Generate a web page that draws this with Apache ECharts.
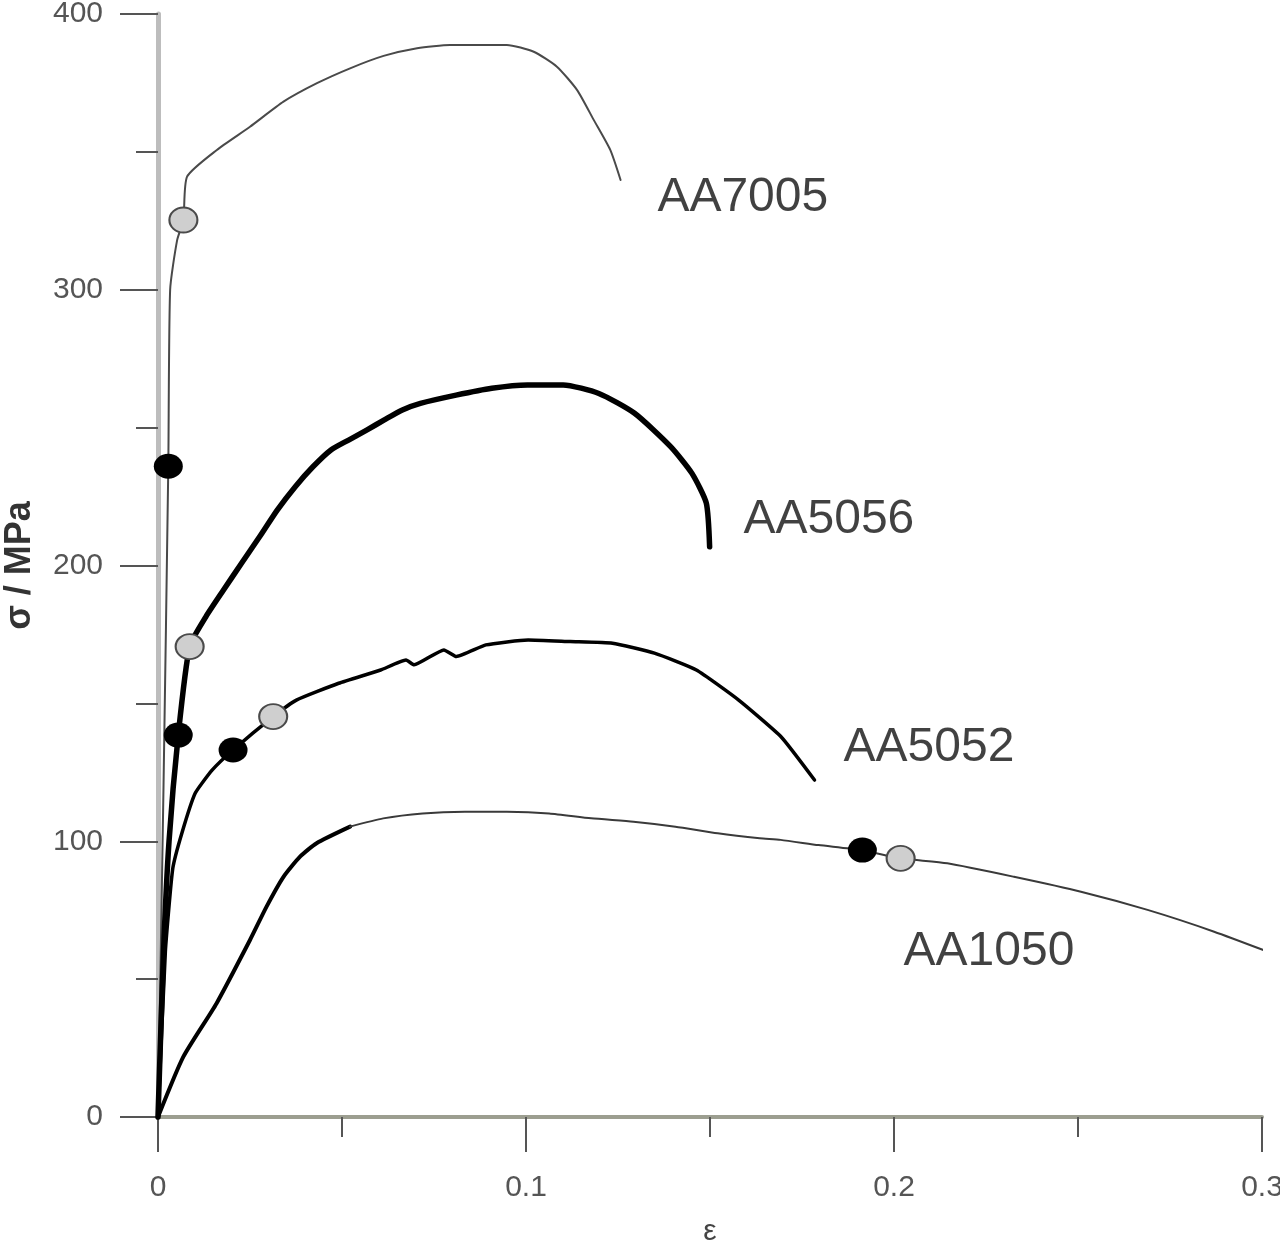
<!DOCTYPE html>
<html>
<head>
<meta charset="utf-8">
<script src="https://cdn.jsdelivr.net/npm/echarts@6/dist/echarts.min.js"></script>
<style>
  html, body { margin: 0; padding: 0; background: #ffffff; }
  #chart { width: 1280px; height: 1246px; }
</style>
</head>
<body>
<div id="chart"></div>
<script>
// ---- data (strain ε, stress σ / MPa) ----
const aa7005 = [
  [0, 0], [0.0015, 120], [0.0028, 236], [0.0033, 300], [0.0052, 318], [0.0069, 325.3],
  [0.0079, 341], [0.016, 350.7], [0.025, 359.1], [0.0341, 368.2], [0.0432, 374.9],
  [0.0522, 380.3], [0.0613, 384.8], [0.0704, 387.6], [0.0794, 388.8], [0.0885, 388.8],
  [0.0948, 388.8], [0.1021, 386.3], [0.1084, 380.9], [0.1139, 372.4], [0.1184, 361.6],
  [0.1229, 350.7], [0.1257, 339.8]
];
const aa5056 = [
  [0, 0], [0.0015, 60], [0.003, 100], [0.0055, 138.5], [0.0086, 170.6], [0.013, 181.4], [0.0178, 191.1],
  [0.0227, 200.8], [0.0276, 210.4], [0.0324, 220.1], [0.0373, 228.6], [0.0421, 235.8],
  [0.047, 241.9], [0.0518, 245.5], [0.0567, 249.1], [0.0615, 252.8], [0.0664, 256.4],
  [0.0713, 258.8], [0.081, 261.8], [0.0907, 264.3], [0.1004, 265.5], [0.1101, 265.5],
  [0.1198, 262.4], [0.1295, 255.2], [0.1393, 243.1], [0.1451, 233.4], [0.149, 222.6],
  [0.1499, 206.8]
];
const aa5052 = [
  [0, 0], [0.002, 60], [0.004, 90], [0.0065, 103], [0.0101, 117.4], [0.0147, 125.8], [0.0204, 133.1],
  [0.0313, 145.2], [0.0376, 151.2], [0.0491, 157.3], [0.0605, 162.1], [0.0674, 165.7],
  [0.0696, 164], [0.0777, 169.4], [0.0811, 167], [0.0891, 171.2], [0.1006, 173],
  [0.112, 172.4], [0.1235, 171.8], [0.1349, 168.2], [0.1463, 162.1], [0.1578, 151.2],
  [0.1693, 137.9], [0.1784, 122.2]
];
const aa1050Rise = [
  [0, 0], [0.0069, 21.9], [0.0159, 41.2], [0.025, 64.2], [0.0295, 76.3], [0.0341, 87.1],
  [0.0386, 94.4], [0.0431, 99.3], [0.0522, 105.3]
];
const aa1050Tail = [
  [0.0522, 105.3], [0.0612, 108.3], [0.0719, 110.1], [0.0834, 110.7], [0.0948, 110.7],
  [0.1063, 110.1], [0.1177, 108.3], [0.1292, 107.1], [0.1406, 105.3], [0.1521, 102.9],
  [0.1635, 101.1], [0.1692, 100.5], [0.1795, 98.6], [0.1909, 96.8], [0.2018, 93.8],
  [0.2145, 92], [0.2326, 87.1], [0.2508, 81.7], [0.2689, 75.1], [0.287, 67.2], [0.3052, 58.1]
];
const blackMarks = [[0.0028, 236], [0.0055, 138.5], [0.0204, 133.1], [0.1914, 96.8]];
const grayMarks = [[0.0069, 325.3], [0.0086, 170.6], [0.0313, 145.2], [0.2018, 93.8]];
const alloyNames = ['AA7005', 'AA5056', 'AA5052', 'AA1050'];
const labelEps = [0.1357, 0.1591, 0.1863, 0.2026];
const labelSig = [333.3, 216.5, 133.8, 59.8];
const xTickLabels = ['0', '0.1', '0.2', '0.3'];
const yTickLabels = ['0', '100', '200', '300', '400'];

// ---- chart ----
const chart = echarts.init(document.getElementById('chart'), null, { renderer: 'canvas' });
const FONT = '"Liberation Sans", Arial, sans-serif';

const labelData = alloyNames.map((n, i) => [labelEps[i], labelSig[i], n]);

function lineSeries(name, data, color, width, smooth) {
  return {
    name: name, type: 'line', data: data, showSymbol: false, symbol: 'none',
    clip: false, smooth: smooth,
    lineStyle: { color: color, width: width, join: 'round', cap: 'round' },
    z: 3
  };
}

chart.setOption({
  animation: false,
  backgroundColor: '#ffffff',
  grid: { left: 158, right: 18, top: 14, bottom: 129, containLabel: false, outerBoundsMode: 'none' },
  xAxis: {
    type: 'value', min: 0, max: 0.3, interval: 0.1,
    name: 'ε', nameLocation: 'middle', nameGap: 100,
    nameTextStyle: { fontFamily: FONT, fontSize: 30, color: '#444' },
    axisLine: { show: true, lineStyle: { color: '#9c9e90', width: 4 } },
    axisTick: { show: true, inside: false, length: 35, lineStyle: { color: '#555', width: 2 } },
    minorTick: { show: true, splitNumber: 2, length: 20, lineStyle: { color: '#555', width: 2 } },
    splitLine: { show: false },
    axisLabel: {
      margin: 56, fontFamily: FONT, fontSize: 30, color: '#555',
      formatter: v => xTickLabels[Math.round(v / 0.1)]
    }
  },
  yAxis: {
    type: 'value', min: 0, max: 400, interval: 100,
    name: 'σ / MPa', nameLocation: 'middle', nameGap: 120,
    nameTextStyle: { fontFamily: FONT, fontSize: 36, fontWeight: 'bold', color: '#333' },
    axisLine: { show: true, lineStyle: { color: '#bdbdbd', width: 5 } },
    axisTick: { show: true, inside: false, length: 38, lineStyle: { color: '#555', width: 2 } },
    minorTick: { show: true, splitNumber: 2, length: 22, lineStyle: { color: '#555', width: 2 } },
    splitLine: { show: false },
    axisLabel: {
      margin: 55, fontFamily: FONT, fontSize: 30, color: '#555',
      formatter: v => yTickLabels[Math.round(v / 100)]
    }
  },
  series: [
    lineSeries('AA7005', aa7005, '#4a4a4a', 2, 0.2),
    lineSeries('AA5056', aa5056, '#000000', 5.5, 0.2),
    lineSeries('AA5052', aa5052, '#000000', 3.5, 0.15),
    lineSeries('AA1050 rise', aa1050Rise, '#000000', 4, 0.2),
    lineSeries('AA1050 tail', aa1050Tail, '#3a3a3a', 2, 0.2),
    {
      name: 'black markers', type: 'scatter', data: blackMarks,
      symbol: 'circle', symbolSize: [29, 25],
      itemStyle: { color: '#000000', opacity: 1 }, z: 5
    },
    {
      name: 'gray markers', type: 'scatter', data: grayMarks,
      symbol: 'circle', symbolSize: [28, 25],
      itemStyle: { color: '#cfcfcf', borderColor: '#4a4a4a', borderWidth: 2, opacity: 1 }, z: 6
    },
    {
      name: 'labels', type: 'scatter', data: labelData, symbolSize: 0,
      silent: true, z: 7,
      label: {
        show: true, position: 'right', distance: 0,
        formatter: p => p.value[2],
        fontFamily: FONT, fontSize: 48, color: '#111'
      }
    }
  ]
});
</script>
</body>
</html>
